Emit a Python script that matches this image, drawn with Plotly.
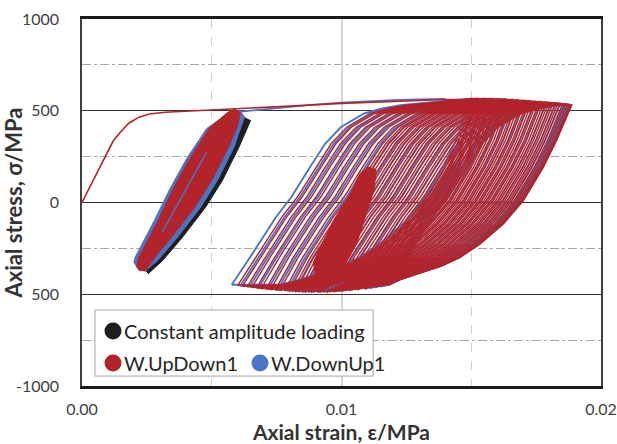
import plotly.graph_objects as go

RED = "#B3232A"
BLUE = "#4A75C4"
BLACK = "#1E1E1E"

# ---------------- data ----------------
# monotonic first loading (W.UpDown1)
mono_strain = [0.0, 0.0004, 0.0008, 0.0012, 0.00146, 0.0018, 0.0022, 0.0026, 0.0032, 0.0040,
               0.0050, 0.0057, 0.0080, 0.0100, 0.0120, 0.0140, 0.0160, 0.0180, 0.0188]
mono_stress = [0, 110, 225, 335, 380, 432, 465, 482, 492, 497,
               503, 508, 525, 540, 552, 561, 559, 545, 533]
# first loading branch of W.DownUp1 beyond the small loops
du_top_strain = [0.0061, 0.0070, 0.0080, 0.0090, 0.0100, 0.0110, 0.0120, 0.0130, 0.0140]
du_top_stress = [495, 508, 521, 534, 545, 553, 558, 562, 565]

# small-amplitude loop bands (outline of overlapping loops)
ca_band_strain = [0.00650, 0.00605, 0.00541, 0.00476, 0.00387, 0.00310, 0.00255, 0.00235,
                  0.0030, 0.0040, 0.0050, 0.0058, 0.0062]
ca_band_stress = [448, 302, 120, -26, -190, -317, -388, -340, -150, 100, 320, 440, 470]

du_band_strain = [0.00200, 0.00204, 0.00275, 0.00339, 0.00403, 0.0048, 0.0057, 0.0061,
                  0.00626, 0.00586, 0.00522, 0.00457, 0.00368, 0.00291, 0.00243, 0.00212]
du_band_stress = [-330, -300, -108, 75, 239, 403, 493, 500,
                  466, 302, 120, -26, -190, -317, -375, -360]

ud_band_strain = [0.00210, 0.00218, 0.0029, 0.00352, 0.00415, 0.0049, 0.0056, 0.0059,
                  0.0061, 0.0060, 0.00565, 0.0050, 0.00435, 0.00345, 0.0028, 0.00245, 0.0022]
ud_band_stress = [-350, -300, -108, 75, 239, 403, 490, 508,
                  490, 420, 302, 120, -26, -190, -300, -370, -372]
du_streak_strain = [0.0031, 0.0036, 0.0042, 0.0048]
du_streak_stress = [-160, -30, 120, 275]

# dense inner loops of W.UpDown1 (outline)
ud_blob_strain = [0.0089, 0.0090, 0.00969, 0.01033, 0.01071, 0.01103, 0.01133, 0.01127,
                  0.01108, 0.01058, 0.0101, 0.0095, 0.0090]
ud_blob_stress = [-330, -299, -98, 47, 157, 193, 180, 80, -7, -226, -350, -410, -410]

# large ratcheting loops: branch shapes (offset from loop tip, stress)
load_dx = [0.0007, 0.0017, 0.0023, 0.0030, 0.0036, 0.0042, 0.0051, 0.0058, 0.0065, 0.0078]
load_sig = [-300, -80, 30, 190, 320, 410, 485, 512, 530, 548]
unload_dx = [-0.00058, -0.00109, -0.00186, -0.00263, -0.00353, -0.0043, -0.0050, -0.00585,
             -0.0066, -0.0074, -0.0085]
unload_sig = [339, 193, 11, -116, -226, -299, -345, -385, -420, -450, -470]

# loop tips of W.UpDown1 (left strain, right strain, peak stress, valley stress)
ud_left = [0.00600, 0.00618, 0.00636, 0.00654, 0.00672, 0.00690, 0.00708, 0.00726, 0.00744,
           0.00762, 0.00780, 0.00798, 0.00810, 0.00822, 0.00834, 0.00846, 0.00858, 0.00870,
           0.00882, 0.00894, 0.00906, 0.00918, 0.00930, 0.00942, 0.00954, 0.00966, 0.00978,
           0.00990, 0.01002, 0.01014, 0.01026, 0.01038, 0.01050, 0.01062, 0.01074, 0.01086,
           0.01098, 0.01110, 0.01122, 0.01134, 0.01146, 0.01158, 0.01170, 0.01182]
ud_right = [0.01510, 0.01519, 0.01528, 0.01537, 0.01546, 0.01555, 0.01564, 0.01573, 0.01582,
            0.01591, 0.01600, 0.01609, 0.01618, 0.01627, 0.01636, 0.01645, 0.01654, 0.01663,
            0.01672, 0.01681, 0.01690, 0.01699, 0.01708, 0.01717, 0.01726, 0.01735, 0.01744,
            0.01753, 0.01762, 0.01771, 0.01780, 0.01789, 0.01798, 0.01807, 0.01816, 0.01825,
            0.01834, 0.01843, 0.01852, 0.01861, 0.01870, 0.01878, 0.01883, 0.01887]
ud_peak = [566, 566, 566, 566, 566, 566, 566, 566, 566, 566, 566,
           565, 564, 563, 562, 561, 560, 559, 558, 557, 556,
           555, 554, 553, 552, 551, 550, 549, 548, 547, 546, 545, 544,
           543, 542, 541, 540, 539, 538, 537, 535, 533, 531, 530]
ud_valley = [-452, -456, -460, -464, -467, -470, -473, -476, -478, -480, -482, -484,
             -486, -487, -488, -489, -490, -490, -490, -490, -490, -490, -490, -489,
             -488, -487, -486, -485, -483, -481, -480, -478, -476, -474, -472, -470,
             -467, -465, -462, -460, -458, -455, -452, -450]

# loop tips of W.DownUp1
du_left = [0.00577, 0.00610, 0.00645, 0.00680, 0.00717, 0.00753, 0.00790, 0.00820, 0.00850,
           0.00880, 0.00910, 0.00940, 0.00970, 0.01000, 0.01030, 0.01060, 0.01090, 0.01110,
           0.01130, 0.01150, 0.01165, 0.01178]
du_right = [0.01500, 0.01523, 0.01550, 0.01577, 0.01604, 0.01631, 0.01658, 0.01680, 0.01702,
            0.01724, 0.01746, 0.01768, 0.01790, 0.01808, 0.01826, 0.01842, 0.01856, 0.01865,
            0.01872, 0.01878, 0.01882, 0.01885]
du_peak = [566, 566, 566, 566, 565, 563, 561, 559, 556, 554, 551, 549, 546, 544, 541, 539,
           537, 535, 534, 533, 532, 531]
du_valley = [-448, -454, -460, -466, -472, -477, -481, -485, -488, -489, -490, -489, -487,
             -484, -480, -476, -472, -468, -464, -460, -456, -452]


def loop_path(left, right, peak, valley):
    xs, ys = [left], [valley]
    width = right - left
    for dx, s in zip(load_dx, load_sig):
        if dx < width - 0.0004:
            xs.append(left + dx)
            ys.append(min(s, peak))
    xs.append(right)
    ys.append(peak)
    for dx, s in zip(unload_dx, unload_sig):
        if -dx < width - 0.0004:
            xs.append(right + dx)
            ys.append(max(s, valley))
    xs.append(left)
    ys.append(valley)
    return xs, ys


def family(lefts, rights, peaks, valleys):
    X, Y = [], []
    for l, r, p, v in zip(lefts, rights, peaks, valleys):
        xs, ys = loop_path(l, r, p, v)
        X += xs + [None]
        Y += ys + [None]
    return X, Y


def add_line(fig, x, y, color, width, fill=False):
    fig.add_trace(go.Scatter(x=x, y=y, mode="lines", line=dict(color=color, width=width),
                             fill="toself" if fill else None,
                             fillcolor=color if fill else None,
                             showlegend=False, hoverinfo="skip"))


fig = go.Figure()

# constant amplitude loading
add_line(fig, ca_band_strain, ca_band_stress, BLACK, 1, fill=True)
# W.DownUp1
add_line(fig, du_band_strain, du_band_stress, BLUE, 1, fill=True)
bx, by = family(du_left, du_right, du_peak, du_valley)
add_line(fig, bx, by, BLUE, 1.9)
add_line(fig, du_top_strain, du_top_stress, BLUE, 1.6)
# W.UpDown1
add_line(fig, ud_band_strain, ud_band_stress, RED, 1, fill=True)
add_line(fig, du_streak_strain, du_streak_stress, BLUE, 1.5)
rx, ry = family(ud_left, ud_right, ud_peak, ud_valley)
add_line(fig, rx, ry, RED, 1.4)
add_line(fig, ud_blob_strain, ud_blob_stress, RED, 1, fill=True)
add_line(fig, mono_strain, mono_stress, RED, 1.6)

# ---------------- legend (drawn as box + dots + text) ----------------
legend_names = ["Constant amplitude loading", "W.UpDown1", "W.DownUp1"]
legend_colors = [BLACK, RED, BLUE]
legend_dot_x = [0.0597, 0.0597, 0.343]
legend_dot_y = [0.150, 0.0627, 0.0627]

shapes = [dict(type="rect", xref="paper", yref="paper", x0=0.025, x1=0.561, y0=0.027, y1=0.207,
               fillcolor="white", line=dict(color="#a6a6a6", width=1), layer="above")]
annotations = []
for name, col, lx, ly in zip(legend_names, legend_colors, legend_dot_x, legend_dot_y):
    shapes.append(dict(type="circle", xref="paper", yref="paper", xsizemode="pixel",
                       ysizemode="pixel", xanchor=lx, yanchor=ly, x0=-8.5, x1=8.5,
                       y0=-8.5, y1=8.5, fillcolor=col, line=dict(width=0), layer="above"))
    annotations.append(dict(xref="paper", yref="paper", x=lx + 0.0165, y=ly, text=name,
                            showarrow=False, xanchor="left", yanchor="middle",
                            font=dict(family="Lato, sans-serif", size=20, color="#262626")))

x_ticks = [0.0, 0.01, 0.02]
x_tick_text = ["0.00", "0.01", "0.02"]
y_ticks = [-1000, -500, 0, 500, 1000]
y_tick_text = ["-1000", "500", "0", "500", "1000"]

fig.update_layout(
    width=617, height=444,
    margin=dict(l=82, r=16, t=19, b=58),
    paper_bgcolor="white", plot_bgcolor="white",
    showlegend=False,
    shapes=shapes, annotations=annotations,
    xaxis=dict(range=[0, 0.02], tickmode="array", tickvals=x_ticks, ticktext=x_tick_text,
               automargin=False,
               showgrid=True, gridcolor="#d6d6d6", gridwidth=2, zeroline=False,
               showline=True, linecolor="#1a1a1a", linewidth=2.5, mirror=True,
               ticks="", ticklabelstandoff=7,
               tickfont=dict(family="Lato, sans-serif", size=16, color="#404040"),
               minor=dict(tickmode="array", tickvals=[0.005, 0.015], showgrid=True,
                          gridcolor="#cfcfcf", griddash="dash", gridwidth=1),
               title=dict(text="Axial strain, ε/MPa", standoff=9,
                          font=dict(family="Lato, sans-serif", size=21, color="#333333",
                                    weight="bold"))),
    yaxis=dict(range=[-1000, 1000], tickmode="array", tickvals=y_ticks, ticktext=y_tick_text,
               automargin=False,
               showgrid=True, gridcolor="#333333", gridwidth=1, zeroline=False,
               showline=True, linecolor="#404040", linewidth=1.5, mirror=True,
               ticks="", ticklabelstandoff=18,
               tickfont=dict(family="Lato, sans-serif", size=16, color="#404040"),
               minor=dict(tickmode="array", tickvals=[-750, -250, 250, 750], showgrid=True,
                          gridcolor="#a6a6a6", griddash="dashdot", gridwidth=1),
               title=dict(text="Axial stress, σ/MPa", standoff=4,
                          font=dict(family="Lato, sans-serif", size=22, color="#333333",
                                    weight="bold"))),
)

fig.write_html("out.html")
